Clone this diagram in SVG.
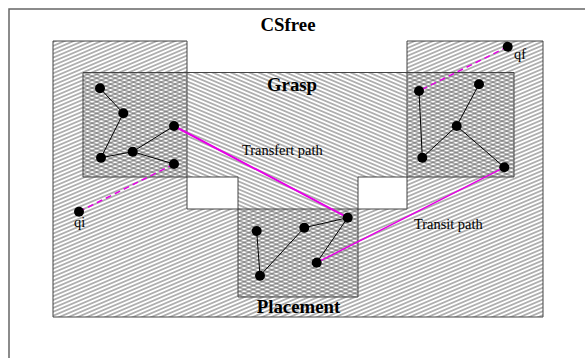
<svg xmlns="http://www.w3.org/2000/svg" width="585" height="358" viewBox="0 0 585 358">
<style>
.region{stroke:#444;stroke-width:1}
.edge{stroke:#000;stroke-width:1;fill:none}
.node{fill:#000}
.path{stroke:#e600e6;fill:none}
.dash{stroke-dasharray:6 4;stroke-width:1.5}
.title{font-family:"Liberation Serif",serif;font-weight:bold;font-size:18.8px;text-anchor:middle;fill:#000}
.lbl{font-family:"Liberation Serif",serif;font-size:14.4px;fill:#000}
</style>
<defs>
<pattern id="hatchP" patternUnits="userSpaceOnUse" width="10" height="3.6" patternTransform="rotate(-23)">
<line x1="0" y1="1.8" x2="10" y2="1.8" stroke="#555" stroke-width="0.9"/>
</pattern>
<pattern id="hatchG" patternUnits="userSpaceOnUse" width="10" height="3.6" patternTransform="rotate(23)">
<line x1="0" y1="1.8" x2="10" y2="1.8" stroke="#555" stroke-width="0.9"/>
</pattern>
</defs>
<rect width="585" height="358" fill="#fff"/>
<path d="M9,358 V9 H585" fill="none" stroke="#666" stroke-width="1.5"/>
<g id="placement-region">
<path class="region" d="M53,41 H187 V209 H407 V41 H543 V317 H53 Z" fill="url(#hatchP)"/>
</g>
<g id="grasp-region">
<path class="region" d="M83,72.5 H514 V177 H358 V297 H238 V177 H83 Z" fill="url(#hatchG)"/>
</g>
<text class="title" x="288" y="31">CSfree</text>
<text class="title" x="292" y="91">Grasp</text>
<text class="title" x="298.5" y="313">Placement</text>
<g id="connectors">
<line class="edge" x1="100" y1="88.3" x2="123.3" y2="113.3"/>
<line class="edge" x1="123.3" y1="113.3" x2="101" y2="157.7"/>
<line class="edge" x1="101" y1="157.7" x2="132.7" y2="151.7"/>
<line class="edge" x1="132.7" y1="151.7" x2="174" y2="126"/>
<line class="edge" x1="132.7" y1="151.7" x2="174" y2="164"/>
<line class="edge" x1="419" y1="91" x2="422.3" y2="157.7"/>
<line class="edge" x1="422.3" y1="157.7" x2="456.7" y2="126"/>
<line class="edge" x1="456.7" y1="126" x2="479" y2="84.3"/>
<line class="edge" x1="456.7" y1="126" x2="504.3" y2="167.3"/>
<line class="edge" x1="256.7" y1="231" x2="260" y2="275.7"/>
<line class="edge" x1="260" y1="275.7" x2="304.3" y2="227.7"/>
<line class="edge" x1="304.3" y1="227.7" x2="347.7" y2="217.7"/>
<line class="edge" x1="347.7" y1="217.7" x2="316.7" y2="262.7"/>
<line class="path" stroke-width="2" x1="174" y1="126" x2="347.7" y2="217.7"/>
<line class="path" stroke-width="1.5" x1="504.3" y1="167.3" x2="316.7" y2="262.7"/>
<line class="path dash" x1="79" y1="211.7" x2="174" y2="164"/>
<line class="path dash" x1="507.7" y1="46.7" x2="419" y2="91"/>
</g>
<g id="n-qi"><circle class="node" cx="79" cy="211.7" r="5"/></g>
<g id="n-a1"><circle class="node" cx="100" cy="88.3" r="5"/></g>
<g id="n-a2"><circle class="node" cx="123.3" cy="113.3" r="5"/></g>
<g id="n-a3"><circle class="node" cx="174" cy="126" r="5"/></g>
<g id="n-a4"><circle class="node" cx="101" cy="157.7" r="5"/></g>
<g id="n-a5"><circle class="node" cx="132.7" cy="151.7" r="5"/></g>
<g id="n-a6"><circle class="node" cx="174" cy="164" r="5"/></g>
<g id="n-qf"><circle class="node" cx="507.7" cy="46.7" r="5"/></g>
<g id="n-b1"><circle class="node" cx="419" cy="91" r="5"/></g>
<g id="n-b2"><circle class="node" cx="479" cy="84.3" r="5"/></g>
<g id="n-b3"><circle class="node" cx="456.7" cy="126" r="5"/></g>
<g id="n-b4"><circle class="node" cx="422.3" cy="157.7" r="5"/></g>
<g id="n-b5"><circle class="node" cx="504.3" cy="167.3" r="5"/></g>
<g id="n-c1"><circle class="node" cx="256.7" cy="231" r="5"/></g>
<g id="n-c2"><circle class="node" cx="304.3" cy="227.7" r="5"/></g>
<g id="n-c3"><circle class="node" cx="347.7" cy="217.7" r="5"/></g>
<g id="n-c4"><circle class="node" cx="316.7" cy="262.7" r="5"/></g>
<g id="n-c5"><circle class="node" cx="260" cy="275.7" r="5"/></g>
<text class="lbl" x="242" y="155">Transfert path</text>
<text class="lbl" x="414" y="229">Transit path</text>
<text class="lbl" x="74" y="227">qi</text>
<text class="lbl" x="514" y="59">qf</text>
</svg>
